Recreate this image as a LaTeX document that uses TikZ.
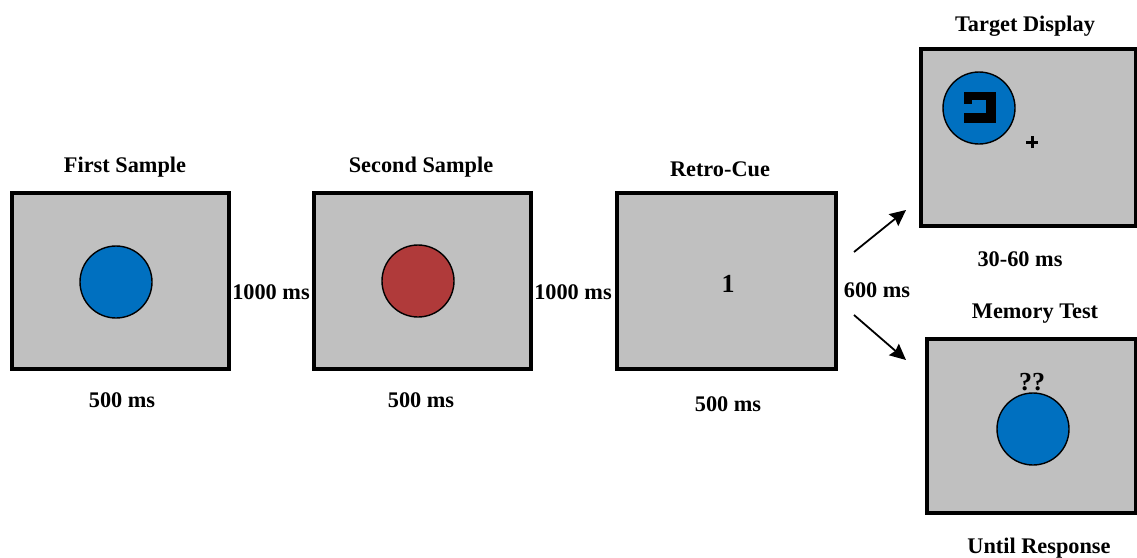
\documentclass[tikz,border=0pt]{standalone}
\usepackage{fontspec}
\setmainfont{Liberation Serif}
\usetikzlibrary{arrows.meta}
\definecolor{screen}{HTML}{C0C0C0}
\definecolor{dotblue}{HTML}{0070C0}
\definecolor{dotred}{HTML}{B03A3A}
\tikzset{
  screenbox/.style={draw=black, line width=3.3pt, fill=screen, inner sep=0pt},
  dot/.style={circle, draw=black, line width=1.4pt, minimum size=72pt, inner sep=0pt},
  lbl/.style={inner sep=0pt, font=\fontsize{22.3}{24}\selectfont\bfseries},
  big/.style={inner sep=0pt, font=\fontsize{26}{28}\selectfont\bfseries},
  arr/.style={line width=1.8pt, -{Stealth[length=16pt,width=15pt,inset=2pt]}}
}
\begin{document}
\begin{tikzpicture}[x=1pt,y=-1pt]
\useasboundingbox (0,0) rectangle (1137,557);
% screens
\node[screenbox, minimum width=217pt, minimum height=176pt] (s1) at (120.5,281) {};
\node[screenbox, minimum width=217pt, minimum height=176pt] (s2) at (422.5,281) {};
\node[screenbox, minimum width=219pt, minimum height=176pt] (s3) at (726.5,281) {};
\node[screenbox, minimum width=215pt, minimum height=177pt] (s4) at (1028.5,137.5) {};
\node[screenbox, minimum width=209pt, minimum height=174pt] (s5) at (1031.5,426) {};
% stimuli
\node[dot, fill=dotblue] (c1) at (116,282) {};
\node[dot, fill=dotred] (c2) at (418,281) {};
\node[big] (cue) at (728,284) {1};
\node[dot, fill=dotblue] (c4) at (979,108) {};
\node[dot, fill=dotblue] (c5) at (1033,429) {};
\node[big] (qq) at (1032,382) {??};
% target symbol
\fill[black] (964,92) rectangle (996,123);
\fill[dotblue] (972,100) rectangle (986,113);
\fill[dotblue] (963,104) rectangle (973,113);
% fixation cross
\coordinate (fx) at (1032,142);
\draw[line width=3pt] ([xshift=-6pt]fx) -- ([xshift=6pt]fx);
\draw[line width=3pt] ([yshift=-6pt]fx) -- ([yshift=6pt]fx);
% titles
\node[lbl] (t1) at (125,167) {First Sample};
\node[lbl] (t2) at (421,167) {Second Sample};
\node[lbl] (t3) at (720,169) {Retro-Cue};
\node[lbl] (t4) at (1025,26) {Target Display};
\node[lbl] (t5) at (1035,314) {Memory Test};
% durations
\node[lbl] (d1) at (122,400) {500 ms};
\node[lbl] (d2) at (421,400) {500 ms};
\node[lbl] (d3) at (728,404) {500 ms};
\node[lbl] (g1) at (271,292) {1000 ms};
\node[lbl] (g2) at (573,292) {1000 ms};
\node[lbl] (g3) at (877,290) {600 ms};
\node[lbl] (d4) at (1020,259) {30-60 ms};
\node[lbl] (d5) at (1039,548) {Until Response};
% arrows
\coordinate (a1s) at (854,252);
\coordinate (a1e) at (906,210);
\coordinate (a2s) at (854,315);
\coordinate (a2e) at (906,360);
\draw[arr] (a1s) -- (a1e);
\draw[arr] (a2s) -- (a2e);
\end{tikzpicture}
\end{document}
